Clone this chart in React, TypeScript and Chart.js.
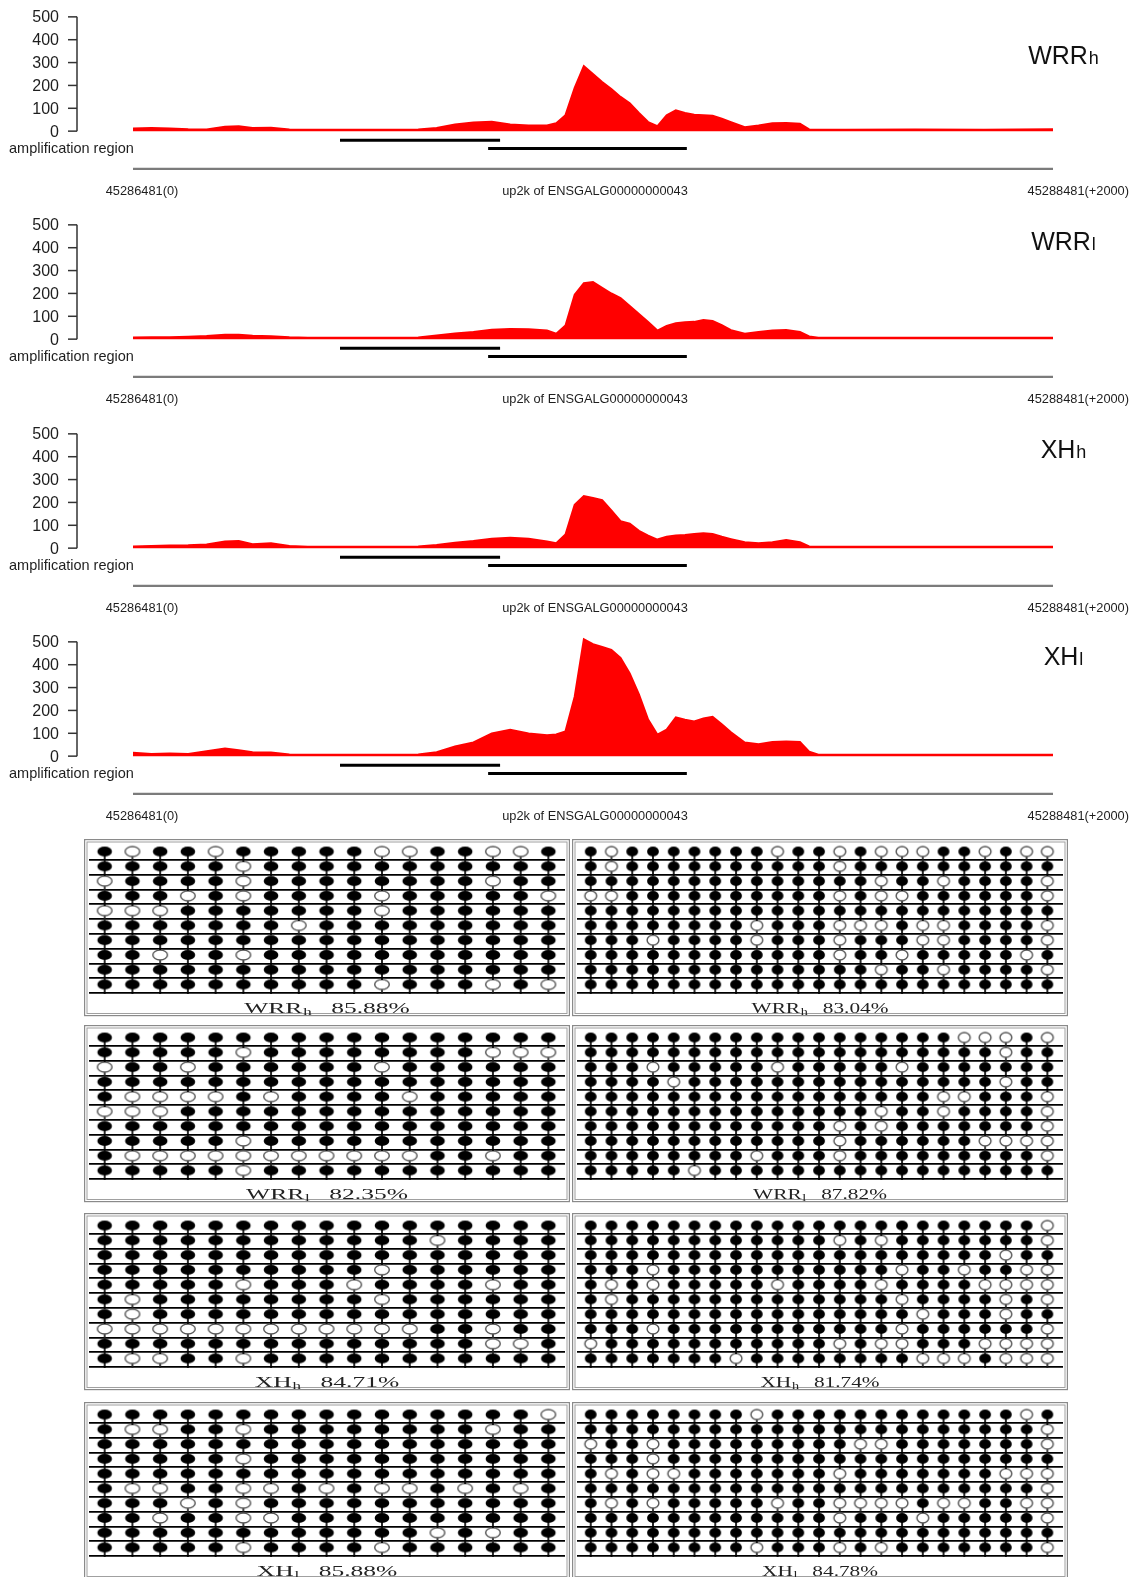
import React, { useEffect, useRef } from 'react';
import { Chart, registerables } from 'chart.js';
Chart.register(...registerables);

// ---------------- Coverage tracks (bp offset from 45286481) ----------------
const positions = [0, 40, 80, 120, 160, 200, 230, 260, 300, 340, 380, 450, 550, 620, 660, 700, 740, 780, 820, 860, 900, 920, 940, 960, 980, 1000, 1020, 1040, 1060, 1080, 1100, 1120, 1140, 1160, 1180, 1200, 1220, 1240, 1260, 1280, 1300, 1330, 1360, 1390, 1420, 1450, 1470, 1490, 1550, 1700, 1850, 2000];

const coverageWRRh = [12, 14, 12, 9, 8, 20, 22, 14, 15, 8, 7, 7, 7, 8, 14, 30, 38, 42, 30, 25, 25, 35, 70, 190, 285, 250, 215, 185, 150, 122, 80, 40, 22, 70, 92, 80, 72, 70, 68, 55, 40, 18, 25, 35, 36, 33, 8, 7, 7, 8, 7, 9];
const coverageWRRl = [8, 9, 9, 11, 14, 20, 20, 15, 13, 9, 7, 6, 6, 8, 16, 25, 32, 42, 45, 44, 38, 24, 60, 195, 245, 250, 225, 200, 180, 145, 110, 75, 38, 58, 70, 74, 76, 84, 80, 62, 40, 24, 32, 38, 40, 32, 12, 7, 7, 7, 7, 7];
const coverageXHh = [8, 10, 12, 13, 16, 30, 32, 18, 22, 10, 7, 6, 6, 8, 14, 24, 32, 42, 46, 42, 30, 22, 60, 190, 228, 220, 210, 165, 118, 108, 76, 55, 38, 50, 56, 58, 62, 66, 62, 50, 40, 26, 22, 26, 36, 26, 8, 7, 7, 7, 7, 7];
const coverageXHl = [15, 10, 12, 10, 22, 34, 26, 18, 16, 8, 7, 6, 6, 8, 18, 43, 60, 100, 116, 100, 92, 95, 109, 260, 512, 490, 478, 465, 430, 362, 270, 160, 95, 116, 170, 160, 152, 165, 172, 140, 105, 60, 52, 62, 65, 62, 20, 7, 7, 7, 7, 7];

const trackValues = [coverageWRRh, coverageWRRl, coverageXHh, coverageXHl];
const trackNames = ['WRR', 'WRR', 'XH', 'XH'];
const trackSubs = ['h', 'l', 'h', 'l'];

const ampliconStarts = [450, 772];
const ampliconEnds = [798, 1204];

const yTicks = [0, 100, 200, 300, 400, 500];
const coordTicks = [0, 1000, 2000];
const coordLabels = ['45286481(0)', 'up2k of ENSGALG00000000043', '45288481(+2000)'];
const regionLabel = 'amplification region';

// ---------------- Methylation panels: unmethylated CpG sites per clone ----------------
const methylRows = [1, 2, 3, 4, 5, 6, 7, 8, 9, 10];
const leftSiteCount = 17;
const rightSiteCount = 23;

const openWRRhLeft = [[2, 5, 11, 12, 15, 16], [6], [1, 6, 15], [4, 6, 11, 17], [1, 2, 3, 11], [8], [], [3, 6], [], [11, 15, 17]];
const openWRRhRight = [[2, 10, 13, 15, 16, 17, 20, 22, 23], [2, 13], [15, 18, 23], [1, 2, 13, 15, 16, 23], [], [9, 13, 14, 15, 17, 18, 23], [4, 9, 13, 17, 18, 23], [13, 16, 22], [15, 18, 23], []];
const openWRRlLeft = [[], [6, 15, 16, 17], [1, 4, 11], [], [2, 3, 4, 5, 7, 12], [1, 2, 3], [], [6], [2, 3, 4, 5, 6, 7, 8, 9, 10, 11, 12, 15], [6]];
const openWRRlRight = [[19, 20, 21, 23], [21], [4, 10, 16], [5, 21], [18, 19, 23], [15, 18, 23], [13, 15, 23], [13, 20, 21, 22, 23], [9, 13, 23], [6]];
const openXHhLeft = [[], [13], [], [11], [6, 10, 15], [2, 11], [2], [1, 2, 3, 4, 5, 6, 7, 8, 9, 10, 11, 12, 15], [15, 16], [2, 3, 6]];
const openXHhRight = [[23], [13, 15, 23], [21], [4, 16, 19, 22, 23], [2, 4, 10, 15, 20, 21, 22, 23], [2, 16, 21, 23], [17, 21], [4, 16, 23], [1, 13, 15, 16, 20, 21, 22, 23], [8, 17, 18, 19, 21, 22, 23]];
const openXHlLeft = [[17], [2, 3, 6, 15], [], [6], [], [2, 3, 6, 7, 9, 11, 12, 14, 16], [4, 6], [3, 6, 7], [13, 15], [6, 11]];
const openXHlRight = [[9, 22], [23], [1, 4, 14, 15, 23], [4], [2, 4, 5, 13, 21, 22, 23], [23], [2, 4, 10, 13, 14, 15, 16, 18, 19, 22, 23], [13, 17, 23], [], [9, 13, 15, 23]];

const panelLeftOpen = [openWRRhLeft, openWRRlLeft, openXHhLeft, openXHlLeft];
const panelRightOpen = [openWRRhRight, openWRRlRight, openXHhRight, openXHlRight];
const panelNames = ['WRR', 'WRR', 'XH', 'XH'];
const panelSubs = ['h', 'l', 'h', 'l'];
const leftPercents = ['85.88%', '82.35%', '84.71%', '85.88%'];
const rightPercents = ['83.04%', '87.82%', '81.74%', '84.78%'];

// ---------------- Layout / style ----------------
const SANS = '"Liberation Sans", Arial, sans-serif';
const SERIF = '"Liberation Serif", "Times New Roman", serif';
const RED = '#ff0000';
const TRACK_TOPS = [0, 208, 417, 625];
const TRACK_H = 208;
const TRACK_LABEL_BASE = [64, 42, 41, 40];
const AMP_Y = [-40, -76];
const COORD_Y = -166;

const PANEL_TOPS = [839, 1025, 1213, 1402];
const PANEL_H = 178;
const ROW_PX = 15.65;
const Y_MIN = -0.086;
const LEFT_BOX = { left: 84, width: 486, xmin: 0.435, xmax: 17.6, rx: 7.3, sx: 1.7, gap: 12 };
const RIGHT_BOX = { left: 572, width: 496, xmin: 0.339, xmax: 23.755, rx: 5.9, sx: 1.42, gap: 11 };

function trackDecor(k: number) {
  return {
    id: 'trackDecor' + k,
    afterDraw(chart: any) {
      const ctx = chart.ctx;
      const y = chart.scales.y;
      const x = chart.scales.x;
      ctx.save();
      // y axis
      ctx.strokeStyle = '#333';
      ctx.lineWidth = 1.5;
      ctx.beginPath();
      ctx.moveTo(77, y.getPixelForValue(0));
      ctx.lineTo(77, y.getPixelForValue(500));
      ctx.stroke();
      ctx.font = '16px ' + SANS;
      ctx.fillStyle = '#1e1e1e';
      ctx.textAlign = 'right';
      ctx.textBaseline = 'middle';
      yTicks.forEach((v) => {
        const py = y.getPixelForValue(v);
        ctx.beginPath();
        ctx.moveTo(68, py);
        ctx.lineTo(77, py);
        ctx.stroke();
        ctx.fillText(String(v), 59, py + 1);
      });
      // amplification label
      ctx.textAlign = 'left';
      ctx.font = '14.5px ' + SANS;
      ctx.fillText(regionLabel, 9, y.getPixelForValue(AMP_Y[1]));
      // coordinate labels
      ctx.font = '12.8px ' + SANS;
      const ly = y.getPixelForValue(0) + 60;
      ctx.textAlign = 'center';
      ctx.fillText(coordLabels[0], x.getPixelForValue(coordTicks[0]) + 9, ly);
      ctx.fillText(coordLabels[1], x.getPixelForValue(coordTicks[1]) + 2, ly);
      ctx.textAlign = 'right';
      ctx.fillText(coordLabels[2], x.getPixelForValue(coordTicks[2]) + 76, ly);
      // sample label
      ctx.textBaseline = 'alphabetic';
      ctx.textAlign = 'left';
      ctx.fillStyle = '#111';
      ctx.font = '25px ' + SANS;
      const w1 = ctx.measureText(trackNames[k]).width;
      ctx.font = '18px ' + SANS;
      const w2 = ctx.measureText(trackSubs[k]).width;
      const x0 = 1063 - (w1 + w2) / 2;
      const by = TRACK_LABEL_BASE[k];
      ctx.font = '25px ' + SANS;
      ctx.fillText(trackNames[k], x0, by);
      ctx.font = '18px ' + SANS;
      ctx.fillText(trackSubs[k], x0 + w1 + 1, by);
      ctx.restore();
    },
  };
}

function TrackCanvas({ k }: { k: number }) {
  const ref = useRef<HTMLCanvasElement>(null);
  useEffect(() => {
    const values = trackValues[k];
    const chart = new Chart(ref.current as HTMLCanvasElement, {
      type: 'line',
      data: {
        datasets: [
          {
            data: positions.map((p, i) => ({ x: p, y: values[i] })),
            borderColor: RED,
            backgroundColor: RED,
            fill: 'origin',
            pointRadius: 0,
            borderWidth: 1.8,
            tension: 0,
          } as any,
          ...ampliconStarts.map((s, i) => ({
            data: [{ x: s, y: AMP_Y[i] }, { x: ampliconEnds[i], y: AMP_Y[i] }],
            borderColor: '#000',
            borderWidth: 3,
            pointRadius: 0,
            fill: false,
          })),
          {
            data: [{ x: coordTicks[0], y: COORD_Y }, { x: coordTicks[2], y: COORD_Y }],
            borderColor: '#7b7b7b',
            borderWidth: 2.5,
            pointRadius: 0,
            fill: false,
          },
        ],
      },
      options: {
        responsive: false,
        animation: false,
        devicePixelRatio: 1,
        events: [],
        layout: { padding: { left: 133, right: 82, top: 10, bottom: 38 } },
        plugins: { legend: { display: false }, tooltip: { enabled: false } },
        scales: {
          x: { type: 'linear', min: 0, max: 2000, display: false },
          y: { type: 'linear', min: -170, max: 530, display: false },
        },
      },
      plugins: [trackDecor(k)],
    } as any);
    return () => chart.destroy();
  }, [k]);
  return (
    <canvas
      ref={ref}
      width={1135}
      height={TRACK_H}
      style={{ position: 'absolute', left: 0, top: TRACK_TOPS[k], width: 1135, height: TRACK_H }}
    />
  );
}

function makeGlyph(rx: number, ry: number, filled: boolean, stem: number) {
  const c = document.createElement('canvas');
  const w = Math.ceil(rx) * 2 + 4;
  const h = Math.ceil(stem) * 2 + 2;
  c.width = w;
  c.height = h;
  const g = c.getContext('2d') as CanvasRenderingContext2D;
  const cx = w / 2;
  const cy = h / 2;
  g.strokeStyle = filled ? '#000' : '#222';
  g.lineWidth = 1.7;
  g.beginPath();
  g.moveTo(cx, cy);
  g.lineTo(cx, cy + stem + 1);
  g.stroke();
  g.beginPath();
  g.ellipse(cx, cy, rx, ry, 0, 0, Math.PI * 2);
  if (filled) {
    g.fillStyle = '#000';
    g.fill();
  } else {
    g.fillStyle = '#fff';
    g.fill();
    g.lineWidth = 1.4;
    g.strokeStyle = '#555';
    g.stroke();
  }
  return c;
}

function panelDecor(k: number, side: 'L' | 'R') {
  const box = side === 'L' ? LEFT_BOX : RIGHT_BOX;
  const pct = side === 'L' ? leftPercents[k] : rightPercents[k];
  return {
    id: 'panelDecor' + side + k,
    afterDraw(chart: any) {
      const ctx = chart.ctx;
      const W = chart.width;
      const H = 176;
      ctx.save();
      ctx.strokeStyle = '#8a8a8a';
      ctx.lineWidth = 1.2;
      ctx.strokeRect(0.6, 0.6, W - 1.2, H);
      ctx.strokeStyle = '#a0a0a0';
      ctx.lineWidth = 1;
      ctx.strokeRect(3, 3, W - 6, H - 4.5);
      // label
      ctx.fillStyle = '#222';
      ctx.textBaseline = 'alphabetic';
      ctx.textAlign = 'left';
      ctx.translate(W / 2, 174);
      ctx.scale(box.sx, 1);
      ctx.font = '15px ' + SERIF;
      const w1 = ctx.measureText(panelNames[k]).width;
      const w3 = ctx.measureText(pct).width;
      ctx.font = '10px ' + SERIF;
      const w2 = ctx.measureText(panelSubs[k]).width;
      const total = w1 + w2 + box.gap + w3;
      const x0 = -total / 2;
      ctx.font = '15px ' + SERIF;
      ctx.fillText(panelNames[k], x0, 0);
      ctx.fillText(pct, x0 + w1 + w2 + box.gap, 0);
      ctx.font = '10px ' + SERIF;
      ctx.fillText(panelSubs[k], x0 + w1 + 0.5, 2);
      ctx.restore();
    },
  };
}

function PanelCanvas({ k, side }: { k: number; side: 'L' | 'R' }) {
  const ref = useRef<HTMLCanvasElement>(null);
  const box = side === 'L' ? LEFT_BOX : RIGHT_BOX;
  useEffect(() => {
    const open = side === 'L' ? panelLeftOpen[k] : panelRightOpen[k];
    const nSites = side === 'L' ? leftSiteCount : rightSiteCount;
    const meth: { x: number; y: number }[] = [];
    const unmeth: { x: number; y: number }[] = [];
    methylRows.forEach((r, i) => {
      for (let s = 1; s <= nSites; s++) {
        (open[i].includes(s) ? unmeth : meth).push({ x: s, y: r - 0.575 });
      }
    });
    const stem = 9;
    const filledGlyph = makeGlyph(box.rx, 5, true, stem);
    const openGlyph = makeGlyph(box.rx, 5, false, stem);
    const chart = new Chart(ref.current as HTMLCanvasElement, {
      type: 'scatter',
      data: {
        datasets: [
          { data: meth, pointStyle: filledGlyph, pointRadius: 5, borderWidth: 0 },
          { data: unmeth, pointStyle: openGlyph, pointRadius: 5, borderWidth: 0 },
        ],
      },
      options: {
        responsive: false,
        animation: false,
        devicePixelRatio: 1,
        events: [],
        layout: { padding: 0 },
        plugins: { legend: { display: false }, tooltip: { enabled: false } },
        scales: {
          x: { type: 'linear', min: box.xmin, max: box.xmax, display: false },
          y: {
            type: 'linear',
            reverse: true,
            min: Y_MIN,
            max: Y_MIN + PANEL_H / ROW_PX,
            display: true,
            ticks: { display: false },
            border: { display: false },
            grid: { drawTicks: false, color: '#000', lineWidth: 1.8 },
            afterFit: (s: any) => {
              s.width = 0;
            },
            afterBuildTicks: (s: any) => {
              s.ticks = methylRows.map((v) => ({ value: v }));
            },
          },
        },
      },
      plugins: [panelDecor(k, side)],
    } as any);
    return () => chart.destroy();
  }, [k, side]);
  return (
    <canvas
      ref={ref}
      width={box.width}
      height={PANEL_H}
      style={{ position: 'absolute', left: box.left, top: PANEL_TOPS[k], width: box.width, height: PANEL_H }}
    />
  );
}

export default function App() {
  return (
    <div
      style={{
        position: 'absolute',
        left: 0,
        top: 0,
        width: 1135,
        height: 1577,
        overflow: 'hidden',
        background: '#fff',
      }}
    >
      {TRACK_TOPS.map((_, k) => (
        <TrackCanvas key={'t' + k} k={k} />
      ))}
      {PANEL_TOPS.map((_, k) => (
        <React.Fragment key={'p' + k}>
          <PanelCanvas k={k} side="L" />
          <PanelCanvas k={k} side="R" />
        </React.Fragment>
      ))}
    </div>
  );
}
